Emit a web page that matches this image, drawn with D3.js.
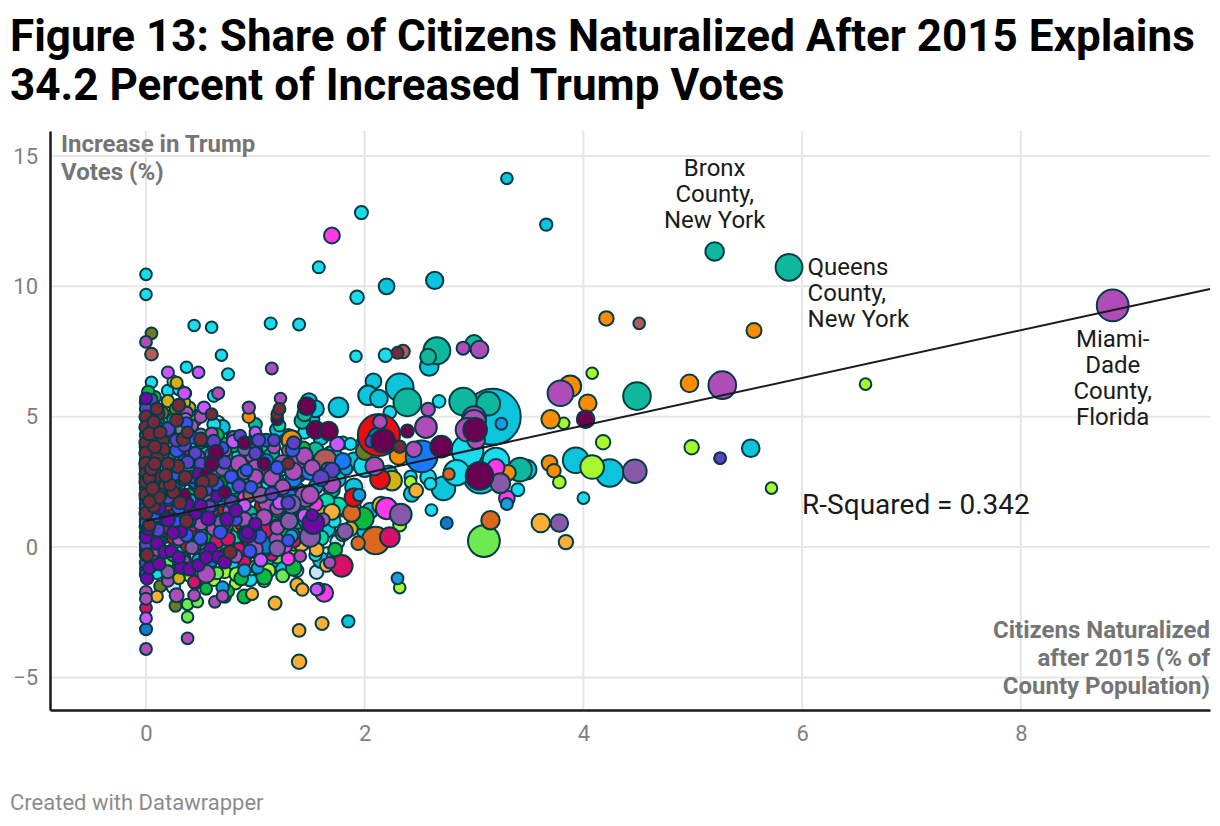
<!DOCTYPE html>
<html>
<head>
<meta charset="utf-8">
<script src="https://cdn.jsdelivr.net/npm/d3@7"></script>
<style>
  html, body { margin: 0; background: #fff; }
  text { font-family: Roboto, sans-serif; }
</style>
</head>
<body>
<div id="chart"></div>
<script>
// every county is [naturalized %, trump increase %, population in thousands]
const paleBlue = [[1.65,-0.31,190],[1.56,-0.96,80],[0.65,4.75,190],[0.25,-1.53,80],[1.3,-0.6,60],[0.9,1.2,80],[1.9,1.5,120],[1.45,0.2,100],[1.75,0.2,100],[1.38,-0.9,60],[1.1,3.4,80]];
const cyanDeep = [[3.3,14.14,20],[3.66,12.37,40],[2.2,10,190],[2.64,10.23,300],[3.17,5,11000],[2.59,6.93,420],[2.08,6.36,190],[2.03,5.82,500],[2.13,5.7,330],[2.32,6.13,1650],[2.1,4.65,700],[5.53,3.79,330],[3.93,3.33,1320],[4.24,2.84,1650],[3.48,2.97,520],[3.06,2.7,2980],[2.72,2.25,1000],[2.43,2.04,190],[1.76,5.36,520],[1.5,4.9,420],[1.49,5.6,200],[1.55,5.3,260],[1.3,4.2,300],[1.7,3.5,500],[1.25,-0.8,120],[1.6,-0.5,200],[0.95,-1.1,60],[1.3,2.5,240],[0.7,4.6,120],[1.85,-2.85,40],[1.0,4.1,100],[0.55,3.8,60],[1.2,4.5,120],[1.4,3.6,200],[1.6,4.2,150],[1.75,2.6,250],[1.9,3.3,300],[1.9,2.3,300],[1.8,1.5,300],[1.65,0.7,300],[1.45,1.1,200],[1.3,-0.2,150],[1.05,0.2,200],[0.85,1.8,150],[0.7,2.8,100],[1.0,2.9,120],[1.72,-0.35,100],[1.12,1.1,150],[0.8,0.1,120],[2.05,1.4,200],[2.0,0.6,150],[1.15,-0.55,90]];
const cyanLight = [[0,10.46,20],[0,9.69,20],[1.58,10.73,30],[1.93,9.58,80],[1.97,12.83,60],[1.14,8.58,30],[1.4,8.54,30],[0.44,8.5,20],[0.6,8.43,20],[1.92,7.32,20],[2.19,7.36,80],[0.69,7.36,20],[0.37,6.9,20],[0.75,6.63,30],[0.05,6.32,20],[0.2,6.0,30],[0.3,6.05,25],[0.36,5.9,20],[0.62,5.8,30],[4,1.88,25],[2.61,1.42,25],[2.94,3.7,2500],[3.2,3.3,1500],[2.84,2.85,1300],[3.4,2.2,60],[2.58,2.68,190],[2.6,2.43,30],[2.42,2.7,40],[1.98,4.0,30],[2.0,3.1,700],[2.22,2.8,300],[1.55,-0.3,40],[0.98,-0.35,190],[0.95,-1.23,120],[0.94,0.3,120],[0.62,4.7,60],[0.72,4.1,50],[0.2,5.0,40],[0.33,4.55,60],[0.4,3.9,40],[1.45,4.4,50],[1.8,4.0,40],[1.87,3.95,30],[0.32,-0.2,30],[0.75,0.9,60],[1.32,3.0,90],[1.4,2.2,50],[1.72,1.0,60],[0.5,1.2,100],[0.3,2.4,70],[0.85,3.5,100],[1.1,2.3,120],[1.25,1.6,100],[0.6,0.2,80],[0.78,-0.65,100],[0.35,-1.0,60],[1.55,1.2,100],[1.9,0.95,60],[0.15,3.0,60],[0.1,-1.0,30],[2.68,5.59,50],[2.23,5.17,50]];
const teal = [[5.2,11.34,400],[5.88,10.73,1500],[2.66,7.53,1500],[3.0,7.8,300],[2.58,7.3,200],[2.9,5.58,1650],[3.13,5.5,1000],[2.39,5.55,1650],[4.49,5.79,1650],[3.42,2.97,1000],[1.43,4.84,190],[1.45,5.1,120],[1.0,4.7,60],[0.25,4.9,40],[0.6,2.9,100],[1.0,3.1,190],[1.2,2.5,120],[0.8,4.2,60],[1.1,0.1,100],[1.6,3.4,250],[1.35,1.2,140],[0.45,4.35,50],[0.35,3.6,40],[1.15,3.6,150],[1.3,3.3,200],[1.55,3.7,250],[1.7,2.2,200],[1.35,0.7,150],[1.15,1.0,150],[0.95,1.3,120],[0.85,2.6,120]];
const mint = [[1.76,1.57,300],[1.1,-0.45,190],[1.4,2.0,120],[1.22,4.66,30],[1.5,3.0,120],[0.7,1.3,40],[0.82,0.4,100],[0.4,-0.9,30],[1.25,0.4,90],[0.55,-0.5,60],[1.65,1.75,200],[0.2,-1.2,25],[1.05,3.9,120],[0.95,2.0,120],[1.45,1.5,200],[1.6,0.35,150],[1.05,-0.95,90],[0.25,-0.7,40]];
const lime = [[5.72,2.26,20],[6.58,6.25,20],[4.08,6.67,20],[3.82,4.75,20],[4.18,4.02,120],[4.99,3.83,120],[5.25,3.41,20],[4.08,3.07,1000],[3.78,2.49,50],[1.5,0.8,100],[2.42,2.5,25],[0.95,-0.75,80],[1.12,-0.9,100],[1.08,-1.3,40],[0.5,-0.6,60],[0.72,-0.95,50],[0.82,-1.4,25],[2.32,-1.56,20],[2.32,0.85,60],[0.25,6.35,25],[0.31,3.9,25],[1.18,0.4,40],[0.83,-1.05,120],[1.02,-0.55,120],[0.62,-1.25,50],[1.0,0.55,90],[1.38,-0.1,100],[0.4,-1.1,40]];
const lightGreen = [[3.09,0.23,2500],[0.38,-2.68,20],[0.38,-2.2,20],[0.47,-2.1,20],[0.45,-1.4,30],[0.3,-1.1,20],[0.96,-0.85,40],[0.65,-1.0,40],[1.2,-0.4,30],[1.0,0.7,40],[0.2,-0.6,20],[1.4,0.45,80],[1.25,-1.1,60],[0.78,-0.2,60]];
const green = [[1.98,1.1,800],[1.35,-0.8,190],[0.72,-1.9,40],[0.9,-1.9,100],[0.72,1.0,100],[1.08,-1.14,190],[0.87,-1.2,90],[0.55,-1.6,25],[0.75,-1.7,30],[0.28,2.5,120],[0.85,2.2,250],[1.28,0.5,80],[1.73,-0.1,90],[1.44,3.8,60],[0.8,3.9,80],[0.5,2.8,60],[0.46,4.3,50],[0.12,4.7,30],[0.23,0.8,70],[0.33,1.9,60],[0.7,4.0,25],[0.92,-0.2,60],[0.65,4.3,80],[0.4,2.0,70],[0.95,3.85,100],[0.3,-0.55,40],[0.55,0.4,50],[0.7,3.45,120],[0.08,5.75,40],[0.02,5.95,40]];
const darkGreen = [[0.22,2.8,60],[0.55,1.8,70],[0.7,2.4,190],[0.44,3.3,120],[0.07,3.9,70],[0.25,4.3,60],[0.95,0.3,40],[0.35,0.2,60],[0.35,3.85,80],[0.18,3.35,80],[0.6,4.0,60],[0.05,-0.1,30]];
const gold = [[1.5,1.6,200],[1.32,1.1,120],[0.45,4.85,30],[0.4,5.35,20],[0.3,-1.2,25],[1.8,0.5,120],[2.25,2.55,520],[0.5,5.1,25],[0.2,5.6,40],[1.6,1.25,350],[1.87,0.7,120],[0.28,6.3,30],[1.35,0.15,150],[1.22,1.75,100],[0.35,5.55,30]];
const olive = [[0.13,-1.5,30],[0.27,-2.25,30],[0,-0.85,30],[0.12,4.7,30],[0.23,3.6,60],[0.45,2.4,50],[1.0,3.5,40],[0.6,1.0,40],[0.1,1.85,30],[2.0,3.68,340],[0.55,3.1,40],[0.27,5.3,30],[0.05,8.2,25],[0.85,3.05,120],[0.18,0.4,50],[0.15,5.15,40]];
const grey = [[0.33,4.5,70],[0.5,4.3,60],[0.92,3.4,120],[1.0,3.0,90],[0.18,4.3,40],[0.75,3.15,70]];
const orange = [[4.21,8.77,120],[5.56,8.31,150],[4.97,6.28,330],[3.88,6.17,740],[3.7,4.9,400],[4.04,5.52,320],[3.69,3.22,190],[1.33,4.1,520],[0.94,5.0,40],[2.31,3.5,350],[3.31,2.85,190],[3.73,2.93,80],[1.12,2.8,60],[0.85,0.8,60],[0.2,1.4,50],[0.5,0.5,30],[1.55,0.95,100],[2.0,4.15,80],[1.0,2.3,70],[1.4,3.35,100],[0.68,2.1,50],[0.42,0.8,40],[0.92,3.0,70]];
const amber = [[1.4,-4.4,120],[1.4,-3.2,50],[1.61,-2.93,60],[1.18,-2.15,60],[3.61,0.92,400],[3.84,0.19,120],[1.38,-1.44,60],[1.43,-1.63,40],[2.47,2.17,90],[2.15,1.6,300],[0.1,-1.9,25],[0.97,-1.8,30],[0.5,4.0,30],[1.0,-0.75,40],[1.56,-0.1,90],[1.2,1.4,80],[1.7,1.35,200],[0.68,-0.1,60],[1.42,0.1,120],[1.65,-0.7,60]];
const burnt = [[3.15,1.03,400],[2.1,0.25,1650],[1.88,1.3,300],[1.94,0.15,80],[2.77,2.8,20],[0.2,1.2,25],[0.8,2.6,70],[1.03,3.1,100],[0.36,1.55,60],[1.18,2.2,120],[1.6,3.1,200],[0.04,0.9,25],[0.92,0.75,40]];
const red = [[2.13,4.3,5350],[1.9,1.9,400],[2.14,2.6,520],[1.33,2.0,190],[0.27,1.2,190],[0.68,1.55,120],[0.87,0.9,60],[0.52,2.0,60],[1.18,0.35,120],[1.35,1.5,60],[0.4,0.5,80],[1.4,2.75,60],[1.06,1.6,100],[0.12,0.5,70],[1.05,2.7,30],[0.8,1.25,90],[0.38,0.05,60],[0.15,1.4,70],[0.3,0.75,70],[0.55,1.5,120],[0.25,0.35,60],[0.65,0.6,80],[0.45,1.75,100],[0.95,0.1,90],[0.18,2.2,50]];
const crimson = [[1.79,-0.72,740],[2.23,0.38,520],[1.12,0.72,330],[1.0,-0.19,40],[0.65,0.23,120],[0.75,0.31,100],[0,0.8,60],[0.05,-0.69,70],[0.44,-1.34,40],[0,-2.33,25],[1.15,-0.3,40],[1.09,3,40],[0.5,-0.19,120],[0.6,1.4,90],[0.35,2.6,60],[0.2,1.65,60],[0.42,3.55,120],[0.55,4.1,30],[0.28,1.1,50],[1.2,1.65,80],[0.9,-0.55,30],[1.35,0.25,100],[0.15,0.75,60],[0.42,0.85,70],[0.72,0.95,120],[0.6,-0.3,60],[0.85,1.45,100],[0.35,-0.45,50],[0.12,-0.35,50],[0.85,-0.1,90],[0.02,1.25,30]];
const magenta = [[1.7,11.95,200],[1.63,-1.76,330],[2.2,1.48,700],[3.2,3.05,300],[3.3,1.87,190],[1.35,0.5,30],[0.9,1.9,60],[1.0,0.6,90],[1.55,1.65,120],[0.55,-0.1,30],[1.3,-0.45,60],[1.27,0.05,120],[0.62,2.8,30]];
const rosy = [[4.51,8.58,20],[2.35,7.5,80],[1.64,3.3,1000],[0.95,2.65,80],[1.3,3.7,50],[0.05,7.4,50],[0.2,3.9,25],[0.85,4.2,40],[1.5,1.9,60],[0.95,2.0,60],[0.3,3.95,30]];
const sky = [[1.83,3.0,40],[3.25,4.73,25],[3.3,1.65,30],[1.02,-0.8,25],[0.7,-1.55,40],[1.0,4.3,20],[0.25,-0.3,60],[0.8,2.3,90],[0.4,1.8,50],[1.55,2.3,120],[1.95,2.0,40],[0.48,-0.5,60],[1.33,0.42,60],[0.9,-0.9,40],[2.3,-1.2,25],[1.0,1.0,120],[0.7,1.8,60],[1.18,2.85,90],[0.72,-0.3,70]];
const steel = [[0,-3.15,30],[2.75,0.92,30],[1.1,-0.1,40],[1.2,0.8,100],[0.4,1.0,40],[2.12,4.2,500],[0.07,3.0,50],[0.6,-0.55,30],[1.1,0.05,220]];
const azure = [[2.52,3.48,2500],[1.5,2.9,300],[1.35,2.6,190],[0.7,2.0,70],[1.1,3.3,100],[1.8,3.3,200],[1.32,1.9,200]];
const orchid = [[8.84,9.27,2500],[5.27,6.21,1650],[3.79,5.9,1320],[3.05,7.58,330],[2.9,7.63,60],[2.56,4.6,740],[2.58,5.28,80],[2.14,4.8,90],[3,4.95,1000],[3.0,4.8,1000],[2.94,4.5,1000],[3.02,4.1,330],[2.45,3.75,190],[2.09,3.1,400],[1.66,3.0,50],[1.65,2.7,330],[1.46,1.95,700],[1.5,2.0,330],[1.7,2.4,300],[1.38,3.25,230],[1.02,4.15,90],[1.0,3.7,100],[0.85,3.2,250],[0.97,3.5,100],[1.0,3.05,200],[1.11,1.7,330],[1.0,2.25,100],[1.2,1.5,100],[0.99,-0.08,300],[1.19,0.3,90],[1.2,0.75,90],[1.41,-0.35,25],[0.55,-1.03,330],[0.2,-1.3,25],[0,-1.72,30],[0,-1.98,30],[0,-3.91,25],[0.38,-3.5,25],[0.28,-1.85,100],[0.44,-1.85,25],[0.63,-2.1,25],[0.7,-1.88,25],[1.68,-0.6,20],[1.58,-1.6,25],[0.5,5.0,40],[0.37,5.15,50],[0.42,4.65,40],[0.94,5.35,40],[1.23,5.7,20],[0.66,5.9,30],[0.8,4.2,60],[0.16,3.7,30],[0,7.87,25],[1.17,3.83,50],[0.6,3.55,80],[0.2,2.1,90],[0.5,0.95,190],[0.77,1.4,120],[0.9,0.5,100],[0.3,0.3,50],[0.1,-0.2,30],[0.6,4.35,40],[1.3,1.0,140],[1.62,1.05,60],[1.15,6.85,30],[1.25,3.2,300],[1.45,3.5,250],[1.15,2.65,250],[1.35,2.9,300],[1.52,3.05,180],[1.25,2.3,150],[0.55,1.95,150],[0.62,0.7,100],[0.9,1.05,150],[1.08,1.15,200],[1.0,2.7,150],[0.82,-0.35,70],[0.72,3.7,70]];
const mauve = [[4.47,2.91,1000],[3.78,0.92,320],[3.24,2.45,520],[2.33,1.25,740],[1.82,0.6,190],[1.31,1.0,280],[1.33,1.65,430],[1.05,2.0,200],[0.35,1.3,200],[0.62,2.2,90],[1.5,0.4,600],[1.2,-0.05,190],[0.42,-0.02,70],[0.7,3.0,90],[0.2,-0.95,60],[0.07,-0.55,35],[0.8,1.7,80],[0.9,3.75,60],[0.35,-0.55,40],[1.52,0.95,60],[0.9,2.85,80],[0.68,0.95,60]];
const violet = [[0,-2.73,25],[1.56,-1.63,30],[0.35,5.9,50],[0.53,5.35,40],[1.75,3.95,120],[0.36,4.9,50],[0.8,4.05,70],[0.48,6.7,25],[0.2,6.7,30],[0.55,-0.3,90],[0.9,1.6,50],[1.22,1.7,60],[1.45,1.2,90],[0.48,3.5,30],[1.0,4.4,20],[1.05,-0.5,60]];
const royal = [[0.05,5.2,30],[0.1,4.6,60],[0.37,4.75,30],[0.5,4.1,60],[0.7,3.8,30],[0.2,4.3,50],[0.35,3.3,60],[0.6,3.3,40],[0.25,2.75,30],[0.65,2.4,60],[0.2,1.8,40],[1.1,4.1,60],[1.34,3.73,90],[0.96,2.3,40],[0.37,0.46,70],[0.5,0.34,70],[0.68,0.57,70],[0.29,0.95,50],[0.6,1.6,70],[0.12,0.2,50],[0.95,-0.15,60],[1.3,0.25,30],[0.82,1.05,40],[0.92,2.95,30],[1.2,3.05,60],[1.04,0.4,80],[0.7,-0.4,60],[0.45,1.4,70],[0,5.55,40],[0,4.3,40],[0,3.35,40],[0,2.25,40],[0,1.65,40],[0,1.05,40],[0,0.55,40],[0,-0.1,40],[0,-1.05,40],[0.05,3.9,50],[0.28,3.7,60],[0.45,2.5,60],[0.3,1.5,60],[0.55,2.9,60],[0.78,2.7,60],[0.42,4.2,40],[0.22,3.1,50],[0.14,2.6,50],[0.1,1.2,50]];
const indigo = [[2.06,4.05,30],[5.25,3.41,20],[0.2,4.52,100],[0.35,3.9,50],[0.1,3.8,40],[0.45,3.6,50],[1.03,4.1,60],[1.17,4.1,30],[1.35,4.0,60],[0.05,5.65,30],[0.86,4.27,30],[1.7,2.95,160],[1.6,2.65,220],[0.11,0.65,50],[0.2,1.9,50],[0.35,1.9,50],[0.72,3.25,60],[0.9,4.0,40],[0.55,2.2,40],[0.78,1.75,50],[1.3,1.7,80],[0.4,1.0,30],[1.0,3.6,50],[0.62,4.05,70],[0,5.3,40],[0.02,4.85,50],[0,3.85,50],[0,3.0,50],[0,2.65,50],[0,1.85,50],[0,1.5,50],[0,0.95,40],[0,0.1,40],[0,-0.6,40],[0.07,4.3,60],[0.06,2.4,60],[0.15,3.55,60],[0.28,4.1,60],[0.38,3.25,60],[0.5,3.2,40],[0.42,2.7,50],[0.25,2.3,50],[0.58,1.55,50],[0.85,2.35,60],[1.15,2.05,70],[0.18,1.1,40]];
const purple = [[1.53,0.92,740],[1.52,1.22,30],[0.93,0.5,330],[0.93,0.55,40],[0,5.7,30],[0,0.38,50],[0,-0.3,40],[0.01,-1.2,50],[0.1,0.15,60],[0.17,-0.19,60],[0.23,-0.15,40],[0.32,-0.77,60],[0.4,-0.84,70],[0.48,-0.69,40],[0.59,-0.07,50],[0.66,-0.38,60],[0.72,-0.57,60],[0.74,1.07,80],[0.57,1.1,120],[0.45,1.3,50],[0.32,0.6,40],[0.2,1.05,90],[0.65,1.95,30],[0.48,2.8,30],[0.82,1.4,60],[1.0,0.9,40],[0.3,-0.4,40],[0.02,0.7,50],[0.03,-0.8,40],[0.12,1.5,60],[0.38,1.65,50],[0.5,1.6,40],[0.12,-0.65,50],[0.55,-0.4,50],[0.25,0.55,50]];
const plum = [[2.17,4.07,1000],[2.39,4.45,60],[2.7,3.85,740],[3.01,4.5,1000],[3.05,2.73,1650],[4.02,4.9,330],[1.47,5.4,350],[1.55,4.5,340],[1.67,4.45,400],[0.64,3.64,150],[0.6,3.18,100],[0.9,4.0,40],[1.08,3.2,50],[0.55,2.8,35],[0.35,2.0,35],[1.2,4.9,25],[0.5,2.45,40],[0.72,2.1,50]];
const maroon = [[0,5.0,60],[0,4.6,70],[0,4.0,70],[0,3.6,70],[0,3.2,80],[0,2.8,70],[0,2.5,70],[0,2.0,70],[0,1.3,70],[0.3,5.44,60],[0.11,5.13,70],[0.1,5.3,40],[0.28,4.87,70],[0.15,4.06,70],[0.34,4.14,70],[0.5,4.14,70],[0.16,3.75,40],[0.29,3.1,70],[0.36,2.68,70],[0.6,2.57,70],[0.11,2.76,50],[0.52,2.5,50],[0.17,2.3,50],[0.03,2.65,50],[0.37,1.0,70],[0.77,-0.19,70],[0.01,-0.3,60],[0.13,2,50],[0.07,1.57,60],[0.5,2.1,70],[0.03,4.35,70],[0.1,3.4,60],[0.2,3.2,60],[0.25,2.1,50],[0.07,4.8,50],[0.12,1.9,40],[0.05,3.0,60],[0.03,1.75,40],[0.22,2.4,40],[0.31,1.7,60],[0.6,5.1,25],[1.2,5.1,25],[0.38,4.4,25],[1.22,5.3,30],[2.32,3.85,40],[2.3,7.45,30],[1.3,3.2,30],[0.08,3.85,60],[0.13,4.4,50],[0.06,2.25,60],[0.18,2.75,60],[0.03,0.85,40],[0.08,3.2,50]];

const groupNames = ["paleBlue","cyanDeep","cyanLight","teal","mint","lime","lightGreen","green","darkGreen","gold","olive","grey","orange","amber","burnt","red","crimson","magenta","rosy","sky","steel","azure","orchid","mauve","violet","royal","indigo","purple","plum","maroon"];
const groupValues = [paleBlue,cyanDeep,cyanLight,teal,mint,lime,lightGreen,green,darkGreen,gold,olive,grey,orange,amber,burnt,red,crimson,magenta,rosy,sky,steel,azure,orchid,mauve,violet,royal,indigo,purple,plum,maroon];
const groupColors = ["#c8e2f6","#0cc4dc","#1adcee","#0db89c","#0ad8a8","#a8f830","#6eea50","#0cb840","#208000","#d4b010","#6e7a20","#7a8a90","#ff8c00","#ffae35","#dc6820","#ee0b14","#d81068","#ff38e8","#b35a5a","#1a9ae0","#1478c8","#1a7aff","#ae4cb8","#8858a8","#cc55ff","#4050f0","#6040c8","#7008a8","#6a0050","#752a3a"];

const xTicks = [0, 2, 4, 6, 8];
const yTicks = [-5, 0, 5, 10, 15];
const fitLine = [[0, 1.0], [9.73, 9.9]];
const titleLines = ["Figure 13: Share of Citizens Naturalized After 2015 Explains", "34.2 Percent of Increased Trump Votes"];
const notes = [
  { lines: ["Bronx", "County,", "New York"], px: 5.2, py: 14.25, anchor: "middle" },
  { lines: ["Queens", "County,", "New York"], px: 6.05, py: 10.42, anchor: "start" },
  { lines: ["Miami-", "Dade", "County,", "Florida"], px: 8.84, py: 7.67, anchor: "middle" }
];

const width = 1220, height = 826;
const margin = { top: 131, right: 10, bottom: 116, left: 50 };

const svg = d3.select("#chart").append("svg")
  .attr("width", width)
  .attr("height", height)
  .style("display", "block");

const x = d3.scaleLinear().domain([-0.878, 9.73]).range([margin.left, width - margin.right]);
const y = d3.scaleLinear().domain([-6.25, 15.96]).range([height - margin.bottom, margin.top]);
const r = d3.scaleSqrt().domain([0, 10000]).range([4.8, 27]);
const color = d3.scaleOrdinal(groupNames, groupColors);

svg.selectAll("text.title")
  .data(titleLines)
  .join("text")
  .attr("class", "title")
  .attr("x", 10)
  .attr("y", (d, i) => 51 + i * 49)
  .attr("font-size", 44)
  .attr("font-weight", 700)
  .attr("fill", "#000")
  .text((d) => d);

// grid
svg.append("g").selectAll("line")
  .data(yTicks)
  .join("line")
  .attr("x1", margin.left)
  .attr("x2", width - margin.right)
  .attr("y1", (d) => y(d))
  .attr("y2", (d) => y(d))
  .attr("stroke", "#e6e6e6")
  .attr("stroke-width", 2);

svg.append("g").selectAll("line")
  .data(xTicks)
  .join("line")
  .attr("x1", (d) => x(d))
  .attr("x2", (d) => x(d))
  .attr("y1", margin.top)
  .attr("y2", height - margin.bottom)
  .attr("stroke", "#e6e6e6")
  .attr("stroke-width", 2);

// axes
const xAxis = svg.append("g")
  .attr("transform", "translate(0," + (height - margin.bottom) + ")")
  .call(d3.axisBottom(x).tickValues(xTicks).tickSize(0).tickPadding(15));
const yAxis = svg.append("g")
  .attr("transform", "translate(" + margin.left + ",0)")
  .call(d3.axisLeft(y).tickValues(yTicks).tickSize(0).tickPadding(12));
[xAxis, yAxis].forEach((g) => {
  g.selectAll("text").attr("font-size", 22).attr("font-family", "Roboto, sans-serif").attr("fill", "#808080");
  g.select(".domain").attr("stroke", "#1a1a1a").attr("stroke-width", 2.5);
});

// counties, one group after another
groupNames.forEach((name, i) => {
  svg.append("g")
    .selectAll("circle")
    .data(groupValues[i])
    .join("circle")
    .attr("cx", (d) => x(d[0]))
    .attr("cy", (d) => y(d[1]))
    .attr("r", (d) => r(d[2]))
    .attr("fill", color(name))
    .attr("stroke", "#023c44")
    .attr("stroke-width", 2);
});

svg.append("path")
  .attr("d", d3.line().x((d) => x(d[0])).y((d) => y(d[1]))(fitLine))
  .attr("fill", "none")
  .attr("stroke", "#1a1a1a")
  .attr("stroke-width", 2);

notes.forEach((n) => {
  svg.append("g").selectAll("text")
    .data(n.lines)
    .join("text")
    .attr("x", x(n.px))
    .attr("y", (d, i) => y(n.py) + i * 26)
    .attr("text-anchor", n.anchor)
    .attr("font-size", 24)
    .attr("fill", "#1a1a1a")
    .text((d) => d);
});

svg.append("text")
  .attr("x", x(6))
  .attr("y", 514)
  .attr("font-size", 28)
  .attr("fill", "#1a1a1a")
  .text("R-Squared = 0.342");

svg.append("g").selectAll("text")
  .data(["Increase in Trump", "Votes (%)"])
  .join("text")
  .attr("x", 61)
  .attr("y", (d, i) => 152 + i * 28)
  .attr("font-size", 24)
  .attr("font-weight", 700)
  .attr("fill", "#757575")
  .text((d) => d);

svg.append("g").selectAll("text")
  .data(["Citizens Naturalized", "after 2015 (% of", "County Population)"])
  .join("text")
  .attr("x", 1210)
  .attr("y", (d, i) => 638 + i * 28)
  .attr("text-anchor", "end")
  .attr("font-size", 24)
  .attr("font-weight", 700)
  .attr("fill", "#757575")
  .text((d) => d);

svg.append("text")
  .attr("x", 10)
  .attr("y", 810)
  .attr("font-size", 22)
  .attr("fill", "#8c8c8c")
  .text("Created with Datawrapper");
</script>
</body>
</html>
